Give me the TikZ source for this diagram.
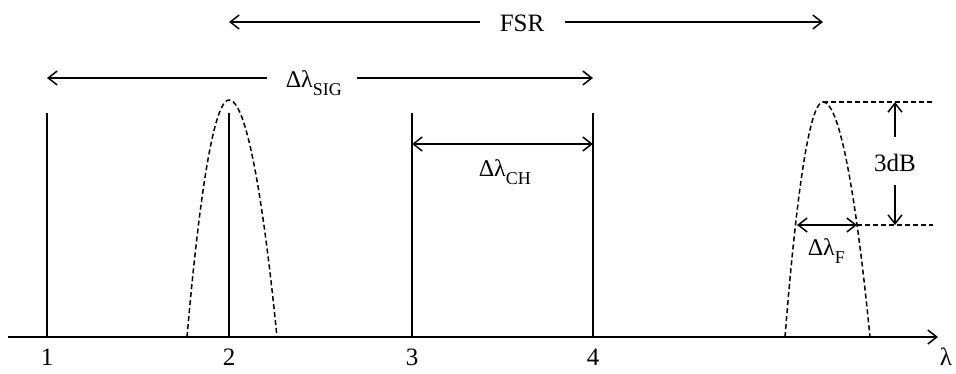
\documentclass[tikz,border=0pt]{standalone}
\usepackage{fontspec}
\setmainfont{Liberation Serif}
\usetikzlibrary{arrows.meta}
\newcommand\dlam[1]{{\fontsize{24}{26}\selectfont Δλ\raisebox{-8pt}{\fontsize{18}{20}\selectfont #1}}}

\begin{document}
\begin{tikzpicture}[x=1pt,y=-1pt,line width=1.5pt,
  >={Straight Barb[length=9pt,width=14pt]},
  fline/.style={dash pattern=on 5pt off 3pt,line width=1.5pt},
  lbl/.style={inner sep=0pt,font=\fontsize{25}{27}\selectfont}]
\useasboundingbox (0,0) rectangle (956,374);

% axis
\coordinate (ax0) at (8,337);
\coordinate (ax1) at (938,337);
\draw[->] (ax0) -- (ax1);
\node[lbl,anchor=base] (lam) at (946,365) {λ};

% channels
\foreach \i/\x in {1/47,2/229,3/412,4/593} {
  \coordinate (top\i) at (\x,113);
  \coordinate (bot\i) at (\x,337);
  \node[lbl,anchor=base] (n\i) at (\x,365) {\i};
  \draw (top\i) -- (bot\i);
}

% filter peaks
\coordinate (pk2) at (229,100);
\coordinate (pk5) at (823,102);
\draw[fline] (187,337) parabola bend (pk2) (277,337);
\draw[fline] (785,337) parabola bend (pk5) (870,337);

% FSR
\node[lbl,anchor=base] (fsr) at (522,32) {FSR};
\coordinate (fsrA) at (480,22);
\coordinate (fsrB) at (565,22);
\draw[<-] (pk2 |- fsrA) -- (fsrA);
\draw[->] (fsrB) -- (pk5 |- fsrB);

% signal band
\node[inner sep=0pt,anchor=base west] (dsig) at (285,88) {\dlam{SIG}};
\coordinate (sigA) at (267,78);
\coordinate (sigB) at (357,78);
\draw[<-] (top1 |- sigA) -- (sigA);
\draw[->] (sigB) -- (top4 |- sigB);

% channel spacing
\coordinate (chA) at (412,144);
\coordinate (chB) at (593,144);
\draw[<->] (chA) -- (chB);
\node[inner sep=0pt,anchor=base west] (dch) at (478,177) {\dlam{CH}};

% 3dB width
\coordinate (hA) at (933,102);
\coordinate (fR) at (857,225);
\coordinate (fL) at (797,225);
\coordinate (hB) at (933,225);
\draw[fline] (pk5) -- (hA);
\draw[fline] (fR) -- (hB);
\draw[<->] (fL) -- (fR);
\node[inner sep=0pt,anchor=base west] (dF) at (807,256) {\dlam{F}};

\node[lbl,anchor=base] (db) at (895,172) {3dB};
\coordinate (dbA) at (895,137);
\coordinate (dbB) at (895,185);
\draw[->] (dbA) -- (pk5 -| dbA);
\draw[->] (dbB) -- (fR -| dbB);
\end{tikzpicture}
\end{document}
